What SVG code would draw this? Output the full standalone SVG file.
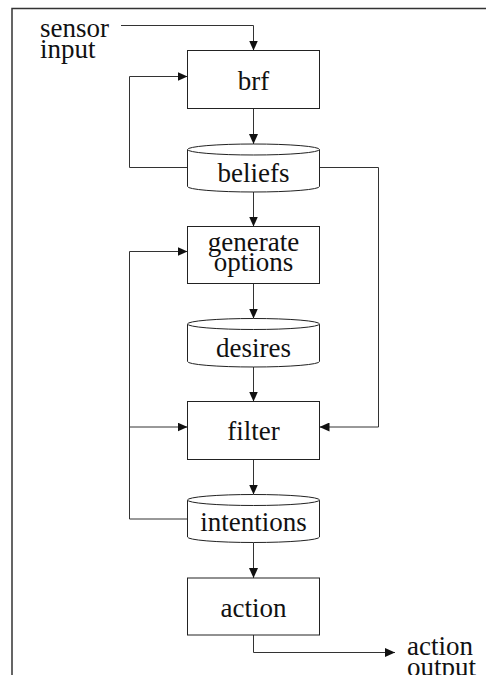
<svg xmlns="http://www.w3.org/2000/svg" width="486" height="675" viewBox="0 0 486 675">
<style>
.box{fill:#fff;stroke:#222;stroke-width:1}
.cyl{fill:#fff;stroke:#222;stroke-width:1}
.ln{fill:none;stroke:#333;stroke-width:1}
text{font-family:'Liberation Serif','DejaVu Serif',serif;font-size:27px;fill:#111}
.c{text-anchor:middle}
</style>
<defs>
<marker id="ah" viewBox="0 0 10 9" refX="10" refY="4.5" markerWidth="10" markerHeight="9" markerUnits="userSpaceOnUse" orient="auto">
<path d="M0,0 L10,4.5 L0,9 z" fill="#111"/>
</marker>
</defs>
<rect width="486" height="675" fill="#fff"/>
<path d="M12,675 V8.5 H486" fill="none" stroke="#333" stroke-width="1.5"/>
<g id="connectors">
<path class="ln" d="M121,25.5 H253.5 V50.5" marker-end="url(#ah)"/>
<path class="ln" d="M253.5,108.5 V144" marker-end="url(#ah)"/>
<path class="ln" d="M187.5,167.5 H129.5 V76.5 H187.5" marker-end="url(#ah)"/>
<path class="ln" d="M253.5,192 V226.5" marker-end="url(#ah)"/>
<path class="ln" d="M319.5,167.5 H378.5 V427 H319.5" marker-end="url(#ah)"/>
<path class="ln" d="M253.5,283.5 V318.5" marker-end="url(#ah)"/>
<path class="ln" d="M253.5,367 V401.5" marker-end="url(#ah)"/>
<path class="ln" d="M253.5,459.5 V494.5" marker-end="url(#ah)"/>
<path class="ln" d="M187.5,519 H129.5 V251.5 H187.5" marker-end="url(#ah)"/>
<path class="ln" d="M129.5,427 H187.5" marker-end="url(#ah)"/>
<path class="ln" d="M253.5,542.5 V578" marker-end="url(#ah)"/>
<path class="ln" d="M253.5,635 V652.5 H395" marker-end="url(#ah)"/>
</g>
<g font-family="Liberation Serif, DejaVu Serif, serif" font-size="27">
<g id="sensor-input">
<text x="40" y="36.5">sensor</text>
<text x="40" y="57.5">input</text>
</g>
<g id="brf">
<rect class="box" x="187.5" y="50.5" width="132" height="58"/>
<text class="c" x="253.5" y="90">brf</text>
</g>
<g id="beliefs">
<path class="cyl" d="M187.5,149.5 A66,5.5 0 0 1 319.5,149.5 V186.5 A66,5.5 0 0 1 187.5,186.5 Z"/>
<path class="cyl" d="M187.5,149.5 A66,5.5 0 0 0 319.5,149.5" fill="none"/>
<text class="c" x="253.5" y="181.5">beliefs</text>
</g>
<g id="generate-options">
<rect class="box" x="187.5" y="226.5" width="132" height="57"/>
<text class="c" x="253.5" y="250.5">generate</text>
<text class="c" x="253.5" y="270.5">options</text>
</g>
<g id="desires">
<path class="cyl" d="M187.5,324 A66,5.5 0 0 1 319.5,324 V361.5 A66,5.5 0 0 1 187.5,361.5 Z"/>
<path class="cyl" d="M187.5,324 A66,5.5 0 0 0 319.5,324" fill="none"/>
<text class="c" x="253.5" y="357">desires</text>
</g>
<g id="filter">
<rect class="box" x="187.5" y="401.5" width="132" height="58"/>
<text class="c" x="253.5" y="440">filter</text>
</g>
<g id="intentions">
<path class="cyl" d="M187.5,500 A66,5.5 0 0 1 319.5,500 V537 A66,5.5 0 0 1 187.5,537 Z"/>
<path class="cyl" d="M187.5,500 A66,5.5 0 0 0 319.5,500" fill="none"/>
<text class="c" x="253.5" y="531">intentions</text>
</g>
<g id="action">
<rect class="box" x="187.5" y="578" width="132" height="57"/>
<text class="c" x="253.5" y="616.5">action</text>
</g>
<g id="action-output">
<text x="407" y="655">action</text>
<text x="407" y="676">output</text>
</g>
</g>
</svg>
